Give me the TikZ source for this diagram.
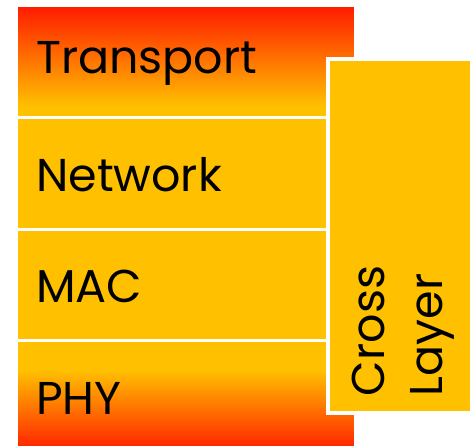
\documentclass[tikz,border=0pt]{standalone}
\usepackage{fontspec}
\setmainfont{Poppins}
\definecolor{layeryellow}{RGB}{255,192,0}
\definecolor{layerred}{RGB}{255,26,0}
\pgfdeclareverticalshading{redtop}{100bp}{color(0bp)=(layeryellow); color(30bp)=(layeryellow); color(75bp)=(layerred); color(100bp)=(layerred)}
\pgfdeclareverticalshading{redbottom}{100bp}{color(0bp)=(layerred); color(25bp)=(layerred); color(62bp)=(layeryellow); color(100bp)=(layeryellow)}

\begin{document}
\begin{tikzpicture}[x=1pt, y=-1pt,
  every layer/.style={draw=white, line width=3pt, fill=layeryellow,
    minimum width=339pt, minimum height=111.8pt, inner sep=0pt},
  layer transport/.style={shade, shading=redtop},
  layer phy/.style={shade, shading=redbottom},
  layer text/.style={anchor=west, inner sep=0pt, font=\fontsize{46}{54}\selectfont}]

\useasboundingbox (0,0) rectangle (472,446);

\foreach \m/\l [count=\y from 0] in {transport/Transport, network/Network, mac/MAC, phy/PHY}
  \node [every layer, layer \m/.try] (layer-\m) at (186,61.4+111.8*\y) {};

\foreach \m/\l [count=\y from 0] in {transport/Transport, network/Network, mac/MAC, phy/PHY}
  \node [layer text] (label-\m) at (36,63+111.8*\y) {\l};

% cross layer block on top of the stack
\node [draw=white, line width=4pt, fill=layeryellow, minimum width=144pt,
  minimum height=354pt, inner sep=0pt] (cross) at (400,235.7) {};
\node [rotate=90, align=left, inner sep=0pt, font=\fontsize{46}{58}\selectfont]
  (label-cross) at (403,331) {Cross\\Layer};

\end{tikzpicture}
\end{document}
